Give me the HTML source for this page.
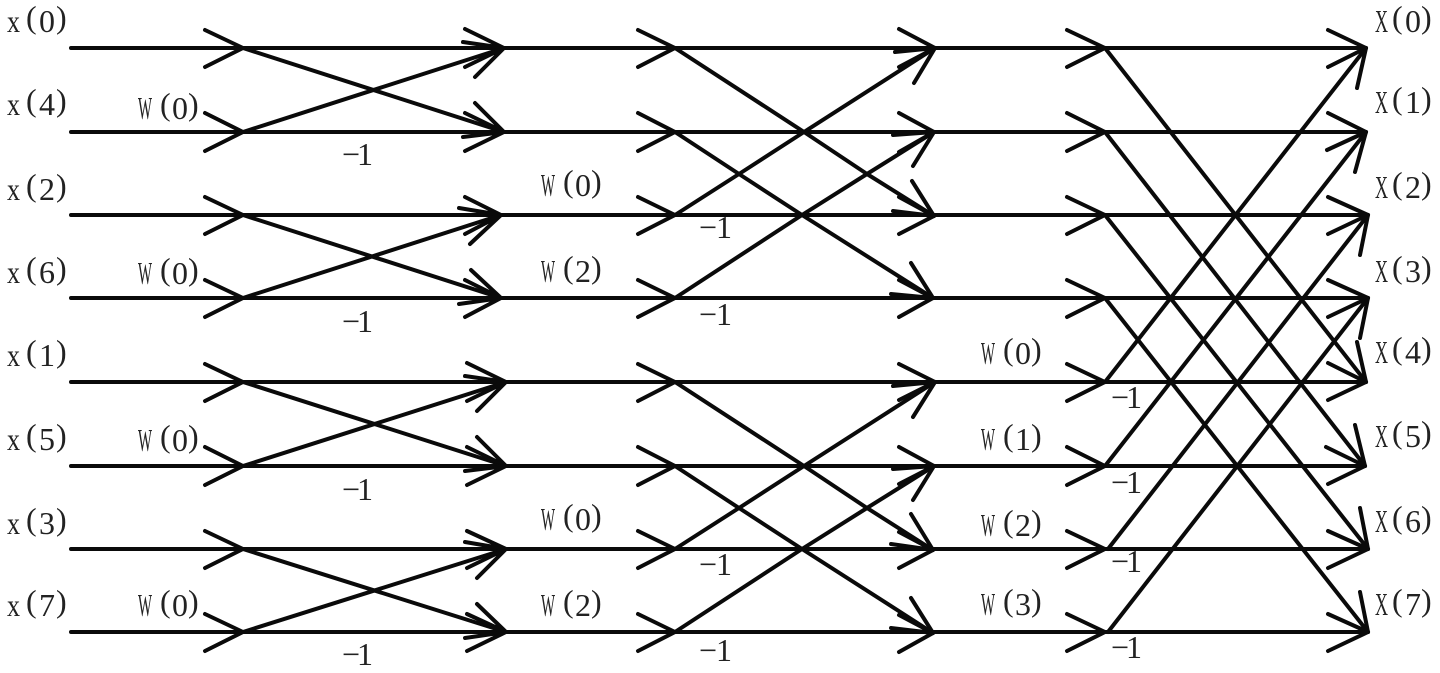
<!DOCTYPE html>
<html><head><meta charset="utf-8"><style>
html,body{margin:0;padding:0;background:#fff;width:1440px;height:673px;overflow:hidden}
svg{display:block}
path{fill:none;stroke:#0a0a0a;stroke-width:4;stroke-linecap:round;stroke-linejoin:round}
text{font-family:"Liberation Serif","Noto Serif CJK SC",serif;font-size:32px;fill:#222}
</style></head><body>
<svg width="1440" height="673" viewBox="0 0 1440 673" xmlns="http://www.w3.org/2000/svg">
<!-- horizontal rails -->
<path d="M71 48H1366M71 132H1366M71 215H1368M71 298H1368M71 382H1366M71 466H1365M71 549H1368M71 632H1368"/>
<!-- node arrowheads -->
<path d="M205 30L243 48L205 67M205 113L243 132L205 151M205 197L243 215L205 234M205 280L243 298L205 317M205 364L243 382L205 401M205 447L243 466L205 485M205 531L243 549L205 568M205 614L243 632L205 651"/>
<path d="M638 30L675 48L638 67M638 113L675 132L638 151M638 197L675 215L638 234M638 280L675 298L638 317M638 364L675 382L638 401M638 447L675 466L638 485M638 531L675 549L638 568M638 614L675 632L638 651"/>
<path d="M1067 30L1105 48L1067 67M1067 113L1105 132L1067 151M1067 197L1105 215L1067 234M1067 280L1105 298L1067 317M1067 364L1105 382L1067 401M1067 447L1105 466L1067 485M1067 531L1105 549L1067 568M1067 614L1105 632L1067 651"/>
<!-- stage 1 crosses -->
<path d="M243 48L504 132M243 132L504 48M243 215L501 298M243 298L501 215M243 382L506 466M243 466L506 382M243 549L506 632M243 632L506 549"/>
<!-- stage 2 heads -->
<path d="M465 29L504 48L465 67M463 42L504 48L475 77M465 113L504 132L465 151M463 137L504 132L475 103"/>
<path d="M465 197L501 215L465 234M459 208L501 215L470 244M465 280L501 298L465 317M459 304L501 298L471 270"/>
<path d="M467 363L506 382L467 401M465 376L506 382L477 411M467 447L506 466L467 485M465 471L506 466L477 437"/>
<path d="M467 531L506 549L467 568M465 542L506 549L477 578M467 614L506 632L467 651M465 638L506 632L477 604"/>
<!-- stage 3 crosses -->
<path d="M675 48L804 132L867 174L934 216M675 132L739 174L802 215L933 298M675 215L739 174L804 132L935 48M675 298L802 215L867 174L934 132"/>
<path d="M675 382L804 466L867 508L933 550M675 466L739 508L802 549L933 633M675 549L739 508L804 466L935 382M675 632L802 549L867 508L934 466"/>
<!-- stage 4 heads -->
<path d="M899 29L935 48L914 83M895 52L935 48L899 67M899 113L934 132L913 166M893 135L934 132L899 152"/>
<path d="M912 181L934 216L899 234M893 211L934 216L899 197M911 263L933 298L899 317M891 294L933 298L899 280"/>
<path d="M899 364L935 382L913 417M893 386L935 382L899 400M899 447L934 466L913 500M893 469L934 466L899 484"/>
<path d="M911 514L933 550L899 568M891 544L933 550L899 532M911 598L933 633L899 652M891 628L933 633L899 615"/>
<!-- stage 5 crosses -->
<path d="M1105 48L1366 382M1105 132L1365 466M1105 215L1368 549M1105 298L1368 632M1105 382L1366 48M1105 466L1366 132M1108 549L1368 215M1108 632L1368 298"/>
<!-- stage 6 heads -->
<path d="M1328 30L1366 48L1328 67M1357 88L1366 48"/>
<path d="M1328 113L1366 132L1327 150M1355 172L1366 132"/>
<path d="M1328 197L1368 215L1328 234M1360 255L1368 215"/>
<path d="M1328 280L1368 298L1328 317M1360 338L1368 298"/>
<path d="M1328 363L1366 382L1328 400M1357 342L1366 382"/>
<path d="M1326 447L1365 466L1328 484M1355 425L1365 466"/>
<path d="M1328 531L1368 549L1328 568M1360 508L1368 549"/>
<path d="M1328 614L1368 632L1328 651M1360 592L1368 632"/>
<!-- input labels -->
<text x="7" y="32" textLength="13" lengthAdjust="spacingAndGlyphs">x</text><text x="26 39 56" y="28 32 28">(0)</text>
<text x="7" y="115" textLength="13" lengthAdjust="spacingAndGlyphs">x</text><text x="26 39 56" y="111 115 111">(4)</text>
<text x="7" y="200" textLength="13" lengthAdjust="spacingAndGlyphs">x</text><text x="26 39 56" y="196 200 196">(2)</text>
<text x="7" y="283" textLength="13" lengthAdjust="spacingAndGlyphs">x</text><text x="26 39 56" y="279 283 279">(6)</text>
<text x="7" y="366" textLength="13" lengthAdjust="spacingAndGlyphs">x</text><text x="26 39 56" y="362 366 362">(1)</text>
<text x="7" y="450" textLength="13" lengthAdjust="spacingAndGlyphs">x</text><text x="26 39 56" y="446 450 446">(5)</text>
<text x="7" y="534" textLength="13" lengthAdjust="spacingAndGlyphs">x</text><text x="26 39 56" y="530 534 530">(3)</text>
<text x="7" y="616" textLength="13" lengthAdjust="spacingAndGlyphs">x</text><text x="26 39 56" y="612 616 612">(7)</text>
<!-- output labels -->
<text x="1375" y="32" textLength="13" lengthAdjust="spacingAndGlyphs">X</text><text x="1392 1405 1421" y="28 32 28">(0)</text>
<text x="1375" y="113" textLength="13" lengthAdjust="spacingAndGlyphs">X</text><text x="1392 1405 1421" y="109 113 109">(1)</text>
<text x="1375" y="198" textLength="13" lengthAdjust="spacingAndGlyphs">X</text><text x="1392 1405 1421" y="194 198 194">(2)</text>
<text x="1375" y="282" textLength="13" lengthAdjust="spacingAndGlyphs">X</text><text x="1392 1405 1421" y="278 282 278">(3)</text>
<text x="1375" y="363" textLength="13" lengthAdjust="spacingAndGlyphs">X</text><text x="1392 1405 1421" y="359 363 359">(4)</text>
<text x="1375" y="447" textLength="13" lengthAdjust="spacingAndGlyphs">X</text><text x="1392 1405 1421" y="443 447 443">(5)</text>
<text x="1375" y="532" textLength="13" lengthAdjust="spacingAndGlyphs">X</text><text x="1392 1405 1421" y="528 532 528">(6)</text>
<text x="1375" y="615" textLength="13" lengthAdjust="spacingAndGlyphs">X</text><text x="1392 1405 1421" y="611 615 611">(7)</text>
<!-- twiddle labels -->
<g transform="translate(0,1)">
<text x="138" y="118" textLength="14" lengthAdjust="spacingAndGlyphs">W</text><text x="160 172 188" y="114 118 114">(0)</text>
<text x="138" y="283" textLength="14" lengthAdjust="spacingAndGlyphs">W</text><text x="160 172 188" y="279 283 279">(0)</text>
<text x="138" y="450" textLength="14" lengthAdjust="spacingAndGlyphs">W</text><text x="160 172 188" y="446 450 446">(0)</text>
<text x="138" y="615" textLength="14" lengthAdjust="spacingAndGlyphs">W</text><text x="160 172 188" y="611 615 611">(0)</text>
<text x="541" y="195" textLength="14" lengthAdjust="spacingAndGlyphs">W</text><text x="563 575 591" y="191 195 191">(0)</text>
<text x="541" y="281" textLength="14" lengthAdjust="spacingAndGlyphs">W</text><text x="563 575 591" y="277 281 277">(2)</text>
<text x="541" y="529" textLength="14" lengthAdjust="spacingAndGlyphs">W</text><text x="563 575 591" y="525 529 525">(0)</text>
<text x="541" y="615" textLength="14" lengthAdjust="spacingAndGlyphs">W</text><text x="563 575 591" y="611 615 611">(2)</text>
<text x="981" y="363" textLength="14" lengthAdjust="spacingAndGlyphs">W</text><text x="1003 1015 1031" y="359 363 359">(0)</text>
<text x="981" y="449" textLength="14" lengthAdjust="spacingAndGlyphs">W</text><text x="1003 1015 1031" y="445 449 445">(1)</text>
<text x="981" y="535" textLength="14" lengthAdjust="spacingAndGlyphs">W</text><text x="1003 1015 1031" y="531 535 531">(2)</text>
<text x="981" y="614" textLength="14" lengthAdjust="spacingAndGlyphs">W</text><text x="1003 1015 1031" y="610 614 610">(3)</text>
</g>
<!-- -1 labels -->
<text x="342 357" y="165">−1</text>
<text x="342 357" y="332">−1</text>
<text x="342 357" y="500">−1</text>
<text x="342 357" y="665">−1</text>
<text x="699 716" y="238">−1</text>
<text x="699 716" y="325">−1</text>
<text x="699 716" y="575">−1</text>
<text x="699 716" y="661">−1</text>
<text x="1111 1126" y="408">−1</text>
<text x="1111 1126" y="493">−1</text>
<text x="1111 1126" y="572">−1</text>
<text x="1111 1126" y="658">−1</text>
</svg>
</body></html>
